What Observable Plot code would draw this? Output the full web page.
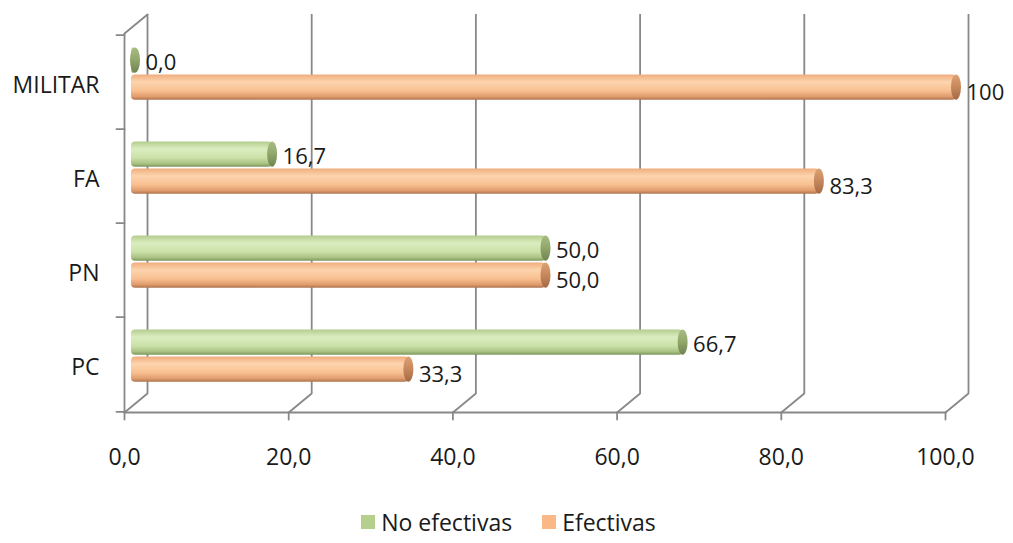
<!DOCTYPE html>
<html>
<head>
<meta charset="utf-8">
<script src="https://cdn.jsdelivr.net/npm/d3@7"></script>
<script src="https://cdn.jsdelivr.net/npm/@observablehq/plot@0.6"></script>
<style>
  html, body { margin: 0; padding: 0; background: #fff; }
  body { width: 1013px; height: 543px; overflow: hidden; font-family: "Open Sans", sans-serif; }
  #legend { display: flex; justify-content: center; align-items: center; gap: 30px; height: 43px; padding-left: 4px; font-size: 23px; color: #1a1a1a; }
  #legend .item { display: flex; align-items: center; gap: 6px; }
  #legend .sw { width: 14px; height: 14px; display: inline-block; }
</style>
</head>
<body>
<div id="chart"></div>
<div id="legend"></div>
<script>
// Categories (top to bottom) and the two series, in percent
const categories = ["MILITAR", "FA", "PN", "PC"];
const noEfectivas = [0.0, 16.7, 50.0, 66.7];
const efectivas = [100, 83.3, 50.0, 33.3];
const xTicks = [0, 20, 40, 60, 80, 100];
const seriesNames = ["No efectivas", "Efectivas"];

const rowsNo = categories.map((c, i) => ({category: c, value: noEfectivas[i]}));
const rowsEf = categories.map((c, i) => ({category: c, value: efectivas[i]}));

// layout
const W = 1013, H = 500;
const mt = 33, mb = 88, ml = 135, mr = 57;
const band = (H - mt - mb) / categories.length;
const barH = 26;
const inset = (band - barH) / 2;
const frontDx = -11;            // front plane of the 3-D box
const backDx = 12, backDy = -19; // back wall offset
const depthAngle = Math.atan2(backDx - frontDx, -backDy) * 180 / Math.PI;
const depthLen = Math.hypot(backDx - frontDx, backDy);
const gray = "#888888";
const font = "Open Sans, sans-serif";

// data labels: one decimal with a comma, whole hundred without decimals
const fmt = v => v >= 100 ? d3.format("d")(v) : v.toFixed(1).replace(".", ",");
const tickFmt = v => v.toFixed(1).replace(".", ",");

const line = {draw(context, l) { context.moveTo(0, 0); context.lineTo(0, -l); }};

// gradient definitions for the cylinders
function gradients() {
  const defs = d3.create("svg:defs");
  const add = (id, stops) => {
    const g = defs.append("linearGradient").attr("id", id)
      .attr("x1", 0).attr("y1", 0).attr("x2", 0).attr("y2", 1);
    stops.forEach(([o, c]) => g.append("stop").attr("offset", o).attr("stop-color", c));
  };
  add("gGreen", [[0, "#b3cc8c"], [0.3, "#dbedc0"], [0.65, "#cbe1a8"], [0.88, "#a9c283"], [1, "#7f985c"]]);
  add("gOrange", [[0, "#efac7c"], [0.3, "#fdd4ae"], [0.65, "#f8bf90"], [0.88, "#df9c6c"], [1, "#b07550"]]);
  add("cGreen", [[0, "#a6bc82"], [0.45, "#93a96d"], [1, "#6f8450"]]);
  add("cOrange", [[0, "#dda173"], [0.45, "#c98a5e"], [1, "#a46a45"]]);
  return defs.node();
}

function cylinder(rows, dy, labelDy, body, cap) {
  return [
    Plot.barX(rows, {x: "value", y: "category", dy, insetTop: inset, insetBottom: inset,
      insetLeft: -4, rx: 4, fill: body}),
    Plot.barX(rows, {x1: "value", x2: "value", y: "category", dy, insetTop: inset, insetBottom: inset,
      insetLeft: -5, insetRight: -5, rx: 5, ry: barH / 2, fill: cap}),
    Plot.text(rows, {x: "value", y: "category", text: d => fmt(d.value), dy: dy + labelDy, dx: 10,
      textAnchor: "start", fontSize: 22, fontFamily: font, fill: "#1a1a1a"})
  ];
}

const chart = Plot.plot({
  width: W, height: H,
  marginTop: mt, marginBottom: mb, marginLeft: ml, marginRight: mr,
  x: {domain: [0, 100], axis: null},
  y: {domain: categories, axis: null, padding: 0},
  style: {fontFamily: font, background: "#fff"},
  marks: [
    gradients,
    // back wall gridlines
    Plot.ruleX(xTicks, {dx: backDx, dy: backDy, stroke: gray, strokeWidth: 1.8}),
    // floor depth lines
    Plot.vector(xTicks, {x: d => d, frameAnchor: "bottom", dx: frontDx, rotate: depthAngle,
      length: depthLen, anchor: "start", shape: line, stroke: gray, strokeWidth: 1.8}),
    // top of the left wall
    Plot.vector([0], {x: d => d, frameAnchor: "top", dx: frontDx, rotate: depthAngle,
      length: depthLen, anchor: "start", shape: line, stroke: gray, strokeWidth: 1.8}),
    // front axes
    Plot.ruleX([0], {dx: frontDx, stroke: gray, strokeWidth: 1.8}),
    Plot.frame({anchor: "bottom", dx: frontDx, stroke: gray, strokeWidth: 1.8}),
    Plot.vector(xTicks, {x: d => d, frameAnchor: "bottom", dx: frontDx, rotate: 180, length: 7,
      anchor: "start", shape: line, stroke: gray, strokeWidth: 1.8}),
    Plot.vector(categories, {y: d => d, frameAnchor: "left", dx: frontDx, dy: -band / 2, rotate: -90,
      length: 8, anchor: "start", shape: line, stroke: gray, strokeWidth: 1.8}),
    Plot.vector(categories.slice(-1), {y: d => d, frameAnchor: "left", dx: frontDx, dy: band / 2, rotate: -90,
      length: 8, anchor: "start", shape: line, stroke: gray, strokeWidth: 1.8}),
    // tick labels
    Plot.text(xTicks, {x: d => d, frameAnchor: "bottom", dx: frontDx, dy: 45, text: tickFmt,
      fontSize: 23, fontFamily: font, fill: "#1a1a1a", lineAnchor: "middle"}),
    Plot.text(categories, {y: d => d, frameAnchor: "left", dx: -36, dy: 3, text: d => d,
      textAnchor: "end", fontSize: 23, fontFamily: font, fill: "#1a1a1a"}),
    // cylinders
    ...cylinder(rowsNo, -22, 2, "url(#gGreen)", "url(#cGreen)"),
    ...cylinder(rowsEf, 5, 5, "url(#gOrange)", "url(#cOrange)")
  ]
});
document.getElementById("chart").appendChild(chart);

// legend
const legendColors = ["#b5d08c", "#f9b886"];
const legend = d3.select("#legend");
seriesNames.forEach((name, i) => {
  const item = legend.append("div").attr("class", "item");
  item.append("span").attr("class", "sw").style("background", legendColors[i]);
  item.append("span").text(name);
});
</script>
</body>
</html>
